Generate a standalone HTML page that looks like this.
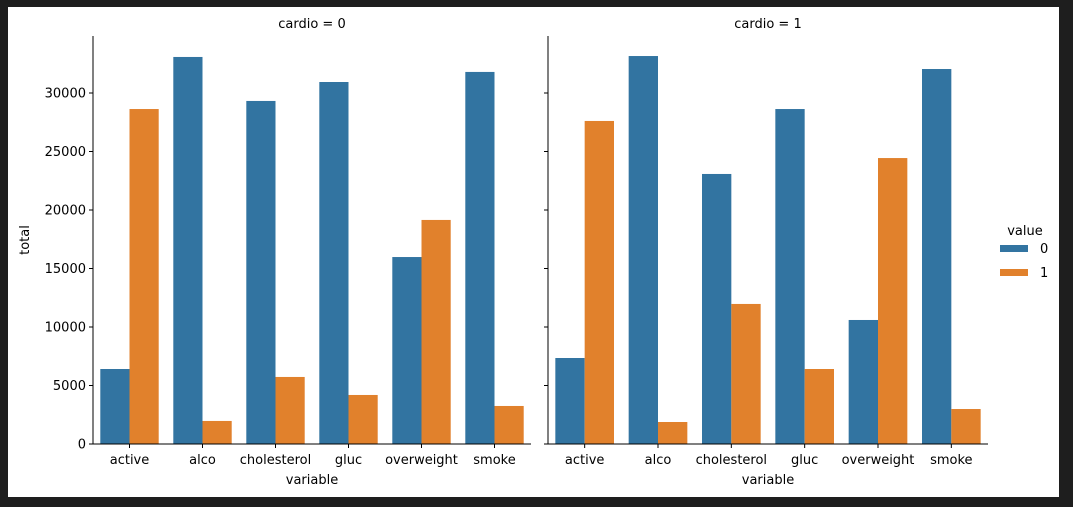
<!DOCTYPE html>
<html><head><meta charset="utf-8"><style>
body{margin:0;background:#1e1e1e;}
svg{display:block;font-family:"DejaVu Sans","Liberation Sans",sans-serif;}
</style></head><body>
<svg id="chart" width="1073" height="507">
<rect x="0" y="0" width="1073" height="507" fill="#1e1e1e"/>
<rect x="8" y="7" width="1051" height="490" fill="#fff"/>
<g id="plots"></g>
<g>
<text x="1025" y="235" font-size="13" text-anchor="middle">value</text>
<rect x="1000" y="245" width="28" height="7" fill="#3274a1"/>
<text x="1040" y="253" font-size="13">0</text>
<rect x="1000" y="269" width="28" height="7" fill="#e1812c"/>
<text x="1040" y="277" font-size="13">1</text>
</g>
</svg>
<script>
const categories=["active","alco","cholesterol","gluc","overweight","smoke"];
const panelTitles=["cardio = 0","cardio = 1"];
const cardio0Value0=[6410,33080,29320,30940,15980,31800];
const cardio0Value1=[28630,1970,5730,4190,19150,3250];
const cardio1Value0=[7350,33160,23080,28630,10600,32050];
const cardio1Value1=[27610,1880,11970,6410,24440,2990];
const yTicks=[0,5000,10000,15000,20000,25000,30000];
const colors=["#3274a1","#e1812c"];
const NS="http://www.w3.org/2000/svg";
const g=document.getElementById('plots');
function mk(tag,attrs,txt){const e=document.createElementNS(NS,tag);for(const k in attrs)e.setAttribute(k,attrs[k]);if(txt!==undefined)e.textContent=txt;g.appendChild(e);return e;}
const y0=444, pxPer=351/30000;
function yScale(v){return y0-v*pxPer;}
const panels=[{x0:93,x1:531,data:[cardio0Value0,cardio0Value1]},{x0:548,x1:988,data:[cardio1Value0,cardio1Value1]}];
panels.forEach((p,pi)=>{
  const bw=(p.x1-p.x0)/categories.length;
  function xScale(i){return p.x0+bw*(i+0.5);}
  p.data.forEach((series,si)=>{
    series.forEach((v,i)=>{
      const r=mk('rect',{x:xScale(i)-bw*0.4+si*bw*0.4,y:yScale(v),width:bw*0.4,height:y0-yScale(v),fill:colors[si]});
      
      
    });
  });
  const ya=mk('line',{x1:p.x0,y1:36,x2:p.x0,y2:y0,stroke:'#000','stroke-width':1});
  
  
  const xa=mk('line',{x1:p.x0,y1:y0,x2:p.x1,y2:y0,stroke:'#000','stroke-width':1});
  
  
  yTicks.forEach(t=>{
    const tk=mk('line',{x1:p.x0-4,y1:yScale(t),x2:p.x0,y2:yScale(t),stroke:'#000'});
    
    
    if(pi===0){
      const tl=mk('text',{x:p.x0-7,y:yScale(t)+4.5,'font-size':13,'text-anchor':'end'},String(t));
      
      
    }
  });
  categories.forEach((c,i)=>{
    const tk=mk('line',{x1:xScale(i),y1:y0,x2:xScale(i),y2:y0+4,stroke:'#000'});
    
    
    const tl=mk('text',{x:xScale(i),y:y0+20,'font-size':13,'text-anchor':'middle'},c);
    
    
  });
  const xt=mk('text',{x:(p.x0+p.x1)/2,y:484,'font-size':13,'text-anchor':'middle'},'variable');
  
  
  const pt=mk('text',{x:(p.x0+p.x1)/2,y:28,'font-size':13,'text-anchor':'middle'},panelTitles[pi]);
  
  
});
const yt=mk('text',{x:29,y:240,'font-size':13,'text-anchor':'middle',transform:'rotate(-90 29 240)'},'total');


</script>
</body></html>
